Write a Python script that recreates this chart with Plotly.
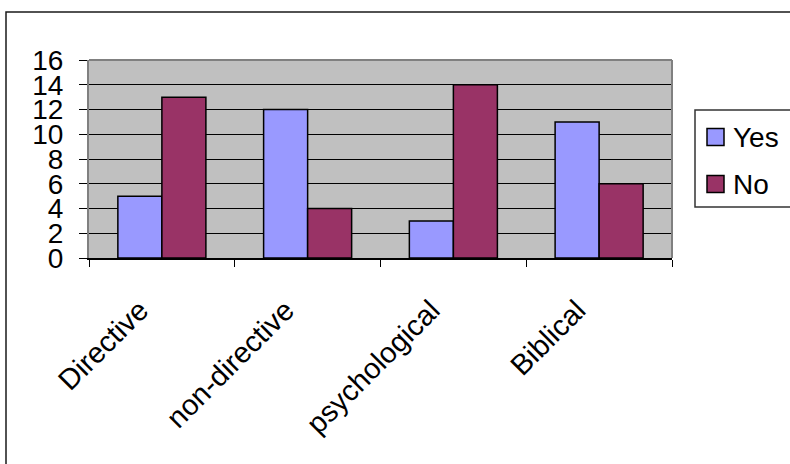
import plotly.graph_objects as go

# Survey answers per counselling approach
categories = ["Directive", "non-directive", "psychological", "Biblical"]
yes_values = [5, 12, 3, 11]
no_values = [13, 4, 14, 6]
series_names = ["Yes", "No"]
series_colors = ["#9999FF", "#993366"]
y_ticks = [0, 2, 4, 6, 8, 10, 12, 14, 16]

W, H = 790, 464
L, R, T, B = 89, 118, 60, 206
PW, PH = W - L - R, H - T - B

FONT = "Liberation Sans, Arial, sans-serif"


def px_x(p):
    return (p - L) / PW


def px_y(p):
    return 1 - (p - T) / PH


fig = go.Figure()
for name, vals, col in zip(series_names, [yes_values, no_values], series_colors):
    fig.add_trace(go.Bar(
        x=categories, y=vals, name=name,
        marker=dict(color=col, line=dict(color="black", width=1.5)),
        showlegend=False,
    ))

shapes = [
    # top and right frame of the plotting area
    dict(type="line", xref="paper", yref="paper", x0=0, x1=1, y0=1, y1=1,
         line=dict(color="#808080", width=2)),
    dict(type="line", xref="paper", yref="paper", x0=1, x1=1, y0=0, y1=1,
         line=dict(color="#808080", width=2)),
    # outer chart border (left and top edges)
    dict(type="path", xref="paper", yref="paper",
         path=f"M {px_x(6)},{px_y(470)} L {px_x(6)},{px_y(12)} L {px_x(800)},{px_y(12)}",
         line=dict(color="#1a1a1a", width=1.5)),
    # legend frame
    dict(type="rect", xref="paper", yref="paper",
         x0=px_x(695), x1=px_x(800), y0=px_y(207), y1=px_y(110),
         line=dict(color="#333333", width=1.5), fillcolor="white"),
]
annotations = []
legend_rows = [137, 184]
for name, col, yc in zip(series_names, series_colors, legend_rows):
    shapes.append(dict(type="rect", xref="paper", yref="paper",
                       x0=px_x(707), x1=px_x(724), y0=px_y(yc + 8.5), y1=px_y(yc - 8.5),
                       line=dict(color="black", width=1.5), fillcolor=col))
    annotations.append(dict(xref="paper", yref="paper", x=px_x(731), y=px_y(yc),
                            text=name, showarrow=False, xanchor="left", yanchor="middle",
                            font=dict(family=FONT, size=28, color="black")))

fig.update_layout(
    width=W, height=H,
    margin=dict(l=L, r=R, t=T, b=B, pad=0),
    paper_bgcolor="white",
    plot_bgcolor="#C0C0C0",
    bargap=0.396, bargroupgap=0,
    barmode="group",
    shapes=shapes,
    annotations=annotations,
    font=dict(family=FONT, color="black"),
    xaxis=dict(
        showline=True, linecolor="black", linewidth=1.5,
        ticks="outside", tickson="boundaries", ticklen=7, tickcolor="black", tickwidth=1,
        tickangle=-45, tickfont=dict(size=29, family=FONT, color="black"),
        ticklabelstandoff=22, ticklabelshift=-22,
        showgrid=False, zeroline=False,
    ),
    yaxis=dict(
        range=[0, 16], tickvals=y_ticks, ticktext=[str(v) for v in y_ticks],
        showgrid=True, gridcolor="black", gridwidth=1,
        showline=True, linecolor="#808080", linewidth=2,
        ticks="outside", ticklen=8, tickcolor="black", tickwidth=1,
        tickfont=dict(size=28, family=FONT, color="black"),
        ticklabelstandoff=10,
        zeroline=False,
    ),
)

fig.write_html("out.html")
